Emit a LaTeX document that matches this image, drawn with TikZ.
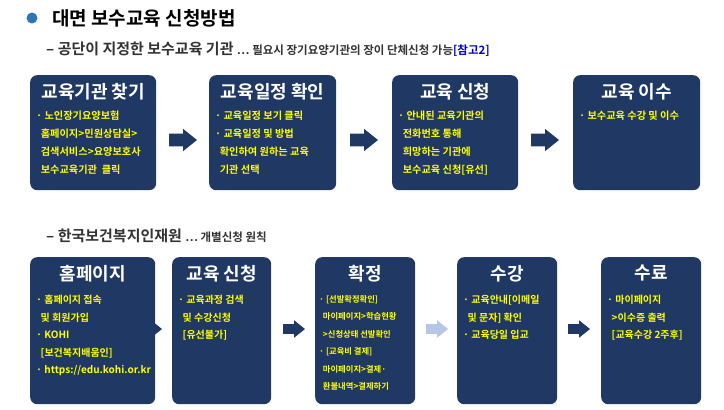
\documentclass[tikz,border=0pt]{standalone}
\usepackage{fontspec}
\setmainfont{Noto Sans CJK KR}
\newfontfamily\krbold{Noto Sans CJK KR Bold}
\usetikzlibrary{positioning}
\definecolor{navy}{HTML}{1F3864}
\definecolor{dotblue}{HTML}{2E75B6}
\definecolor{lightarrow}{HTML}{B4C7E7}
\definecolor{note}{HTML}{FFFF00}
\tikzset{
    % step box
    stepbox/.style={
        rectangle,
        rounded corners=7pt,
        fill=navy,
        draw=none,
        anchor=north west
    },
    % box title
    box title/.style={
        font=\krbold\fontsize{18}{20}\selectfont,
        text=white,
        anchor=north,
        inner sep=0pt
    },
    % bullet text
    box text/.style={
        font=\krbold\fontsize{10.2}{18}\selectfont,
        text=note,
        align=left,
        anchor=north west,
        inner sep=0pt
    },
    heading/.style={
        font=\krbold\fontsize{#1}{#1}\selectfont,
        anchor=west,
        inner sep=0pt
    }
}
% block arrow: centre x, centre y, colour, half length
\newcommand\blockarrow[4]{%
    \fill[#3] (#1-#4,#2-0.45*#4) -- (#1,#2-0.45*#4) -- (#1,#2-0.8*#4)
        -- (#1+#4,#2) -- (#1,#2+0.8*#4) -- (#1,#2+0.45*#4)
        -- (#1-#4,#2+0.45*#4) -- cycle;}
\begin{document}
\begin{tikzpicture}[x=1pt,y=-1pt]
    \useasboundingbox (0,0) rectangle (724,410);

    % Headings
    \fill[dotblue] (32,18) circle (5.5);
    \node[heading=19] (title) at (52,18) {대면 보수교육 신청방법};
    \node[heading=15, text=black!80] (sub1) at (46,49) {– 공단이 지정한 보수교육 기관 {\fontsize{11.5}{11.5}\selectfont … 필요시 장기요양기관의 장이 단체신청 가능\textcolor{blue!80!black}{[참고2]}}};
    \node[heading=15, text=black!80] (sub2) at (46,236) {– 한국보건복지인재원 {\fontsize{11.5}{11.5}\selectfont … 개별신청 원칙}};

    % Top row
    \node[stepbox, minimum width=126pt, minimum height=115pt] (a1) at (30,75) {};
    \node[stepbox, minimum width=127pt, minimum height=115pt] (a2) at (209,75) {};
    \node[stepbox, minimum width=126pt, minimum height=115pt] (a3) at (392,75) {};
    \node[stepbox, minimum width=127pt, minimum height=115pt] (a4) at (573,75) {};
    \node[box title, below=8pt of a1.north] {교육기관 찾기};
    \node[box title, below=8pt of a2.north] {교육일정 확인};
    \node[box title, below=8pt of a3.north] {교육 신청};
    \node[box title, below=8pt of a4.north] {교육 이수};
    \node[box text] (t1) at (36,111) {· 노인장기요양보험\\\ \ 홈페이지>민원상담실>\\\ \ 검색서비스>요양보호사\\\ \ 보수교육기관\ \ 클릭};
    \node[box text] (t2) at (215,111) {· 교육일정 보기 클릭\\· 교육일정 및 방법\\\ \ 확인하여 원하는 교육\\\ \ 기관 선택};
    \node[box text] (t3) at (398,111) {· 안내된 교육기관의\\\ \ 전화번호 통해\\\ \ 희망하는 기관에\\\ \ 보수교육 신청[유선]};
    \node[box text] (t4) at (579,111) {· 보수교육 수강 및 이수};
    \blockarrow{183}{140}{navy}{14}
    \blockarrow{364}{140}{navy}{14}
    \blockarrow{545}{140}{navy}{14}

    % Bottom row
    \node[stepbox, minimum width=125pt, minimum height=147pt] (b1) at (30,257) {};
    \node[stepbox, minimum width=99pt, minimum height=147pt] (b2) at (172,257) {};
    \node[stepbox, minimum width=100pt, minimum height=147pt] (b3) at (315,257) {};
    \node[stepbox, minimum width=100pt, minimum height=147pt] (b4) at (457,257) {};
    \node[stepbox, minimum width=100pt, minimum height=147pt] (b5) at (601,257) {};
    \node[box title, below=8pt of b1.north] {홈페이지};
    \node[box title, below=8pt of b2.north] {교육 신청};
    \node[box title, below=8pt of b3.north] {확정};
    \node[box title, below=8pt of b4.north] {수강};
    \node[box title, below=8pt of b5.north] {수료};
    \node[box text, font=\krbold\fontsize{10}{17.5}\selectfont] (u1) at (36,295) {· 홈페이지 접속\\\ \ 및 회원가입\\· KOHI\\\ \ [보건복지배움인]\\· https://edu.kohi.or.kr};
    \node[box text, font=\krbold\fontsize{10}{17.5}\selectfont] (u2) at (178,295) {· 교육과정 검색\\\ \ 및 수강신청\\\ \ [유선불가]};
    \node[box text, font=\krbold\fontsize{8.3}{17.5}\selectfont] (u3) at (319,295) {· [선발확정확인]\\\ \ 마이페이지>학습현황\\\ \ >신청상태 선발확인\\· [교육비 결제]\\\ \ 마이페이지>결제·\\\ \ 환불내역>결제하기};
    \node[box text, font=\krbold\fontsize{10}{17.5}\selectfont] (u4) at (463,295) {· 교육안내[이메일\\\ \ 및 문자] 확인\\· 교육당일 입교};
    \node[box text, font=\krbold\fontsize{10}{17.5}\selectfont] (u5) at (607,295) {· 마이페이지\\\ \ >이수증 출력\\\ \ [교육수강 2주후]};
    \blockarrow{151}{329}{navy}{11}
    \blockarrow{294}{329}{navy}{11}
    \blockarrow{437}{329}{lightarrow}{11}
    \blockarrow{579}{329}{navy}{11}
\end{tikzpicture}
\end{document}
